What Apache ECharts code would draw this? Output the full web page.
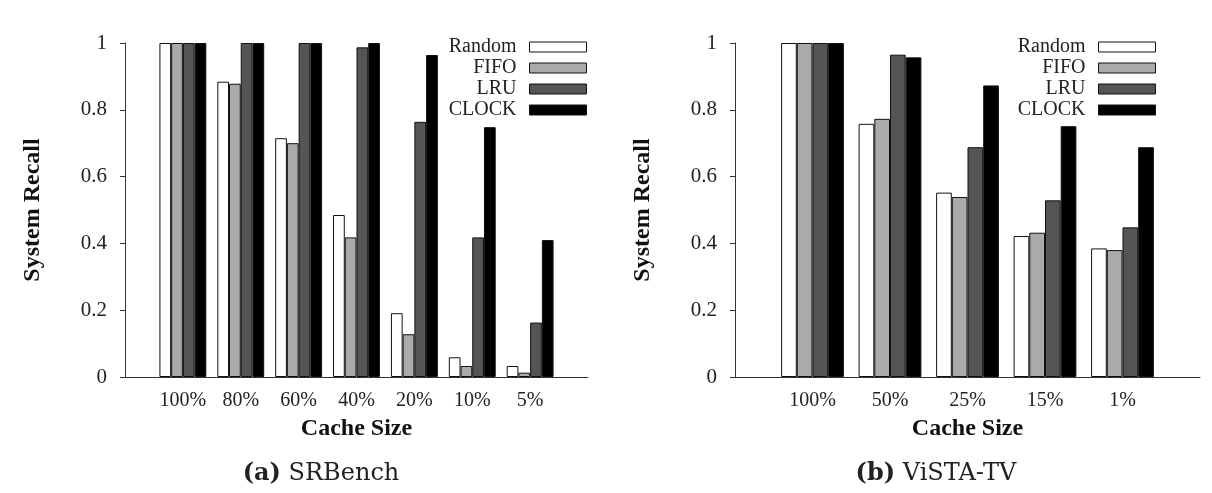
<!DOCTYPE html>
<html>
<head>
<meta charset="utf-8">
<script src="https://cdn.jsdelivr.net/npm/echarts@6/dist/echarts.min.js"></script>
<style>
  html, body { margin: 0; padding: 0; background: #fff; }
  #main { width: 1212px; height: 493px; }
</style>
</head>
<body>
<div id="main"></div>
<script>
// categories (empty ones pad both ends so the groups sit like the original)
var catsA = ['', '100%', '80%', '60%', '40%', '20%', '10%', '5%', ''];
var catsB = ['', '100%', '50%', '25%', '15%', '1%', ''];

var policies = ['Random', 'FIFO', 'LRU', 'CLOCK'];
var colors = ['#ffffff', '#aaaaaa', '#555555', '#000000'];

// SRBench
var randomA = [null, 1.0, 0.884, 0.715, 0.485, 0.191, 0.059, 0.033, null];
var fifoA   = [null, 1.0, 0.878, 0.700, 0.418, 0.128, 0.033, 0.013, null];
var lruA    = [null, 1.0, 1.0, 1.0, 0.987, 0.764, 0.418, 0.163, null];
var clockA  = [null, 1.0, 1.0, 1.0, 1.0, 0.964, 0.748, 0.410, null];

// ViSTA-TV
var randomB = [null, 1.0, 0.758, 0.552, 0.422, 0.385, null];
var fifoB   = [null, 1.0, 0.773, 0.539, 0.432, 0.380, null];
var lruB    = [null, 1.0, 0.965, 0.688, 0.529, 0.448, null];
var clockB  = [null, 1.0, 0.957, 0.873, 0.751, 0.688, null];

var serif = '"Liberation Serif", "DejaVu Serif", serif';
var capFont = '"DejaVu Serif", serif';

var chart = echarts.init(document.getElementById('main'));

function xAxisOf(idx, cats) {
  return {
    type: 'category',
    gridIndex: idx,
    data: cats,
    boundaryGap: false,
    axisLine: { lineStyle: { color: '#333', width: 1 } },
    axisTick: { show: false },
    axisLabel: { color: '#222', fontFamily: serif, fontSize: 20, margin: 14, interval: 0 },
    name: 'Cache Size',
    nameLocation: 'middle',
    nameGap: 40,
    nameTextStyle: { color: '#111', fontFamily: serif, fontSize: 24, fontWeight: 'bold' }
  };
}

function yAxisOf(idx) {
  return {
    type: 'value',
    gridIndex: idx,
    min: 0,
    max: 1,
    interval: 0.2,
    splitLine: { show: false },
    axisLine: { show: true, lineStyle: { color: '#333', width: 1 } },
    axisTick: { show: true, length: 5, lineStyle: { color: '#333' } },
    axisLabel: { color: '#222', fontFamily: serif, fontSize: 21, margin: 18 },
    name: 'System Recall',
    nameLocation: 'middle',
    nameGap: 80,
    nameTextStyle: { color: '#111', fontFamily: serif, fontSize: 24, fontWeight: 'bold' }
  };
}

function barsOf(idx, lists) {
  return lists.map(function (vals, i) {
    return {
      name: policies[i],
      type: 'bar',
      xAxisIndex: idx,
      yAxisIndex: idx,
      data: vals,
      barGap: '0%',
      barCategoryGap: '19%',
      itemStyle: { color: colors[i], borderColor: '#111', borderWidth: 1 },
      emphasis: { disabled: true },
      animation: false
    };
  });
}

function legendOf(right) {
  return {
    orient: 'vertical',
    right: right,
    top: 37,
    padding: 0,
    align: 'right',
    itemWidth: 57,
    itemHeight: 10,
    itemGap: 1,
    icon: 'rect',
    data: policies,
    itemStyle: { borderColor: '#111', borderWidth: 1 },
    textStyle: { color: '#222', fontFamily: serif, fontSize: 20, padding: [0, 8, 0, 0] }
  };
}

function captionOf(tag, label, x) {
  return {
    text: '{b|' + tag + '} ' + label,
    left: x, top: 462, textAlign: 'center', padding: 0,
    textStyle: {
      fontFamily: capFont, fontSize: 24, fontWeight: 'normal', color: '#222', lineHeight: 24,
      rich: { b: { fontFamily: capFont, fontSize: 24, fontWeight: 'bold', color: '#222', lineHeight: 24 } }
    }
  };
}

var option = {
  backgroundColor: '#fff',
  grid: [
    { left: 125, right: 624, top: 43, bottom: 116 },
    { left: 735, right: 12, top: 43, bottom: 116 }
  ],
  legend: [legendOf(625), legendOf(56)],
  title: [captionOf('(a)', 'SRBench', 321), captionOf('(b)', 'ViSTA-TV', 936)],
  xAxis: [xAxisOf(0, catsA), xAxisOf(1, catsB)],
  yAxis: [yAxisOf(0), yAxisOf(1)],
  series: barsOf(0, [randomA, fifoA, lruA, clockA]).concat(barsOf(1, [randomB, fifoB, lruB, clockB]))
};

chart.setOption(option);
</script>
</body>
</html>
